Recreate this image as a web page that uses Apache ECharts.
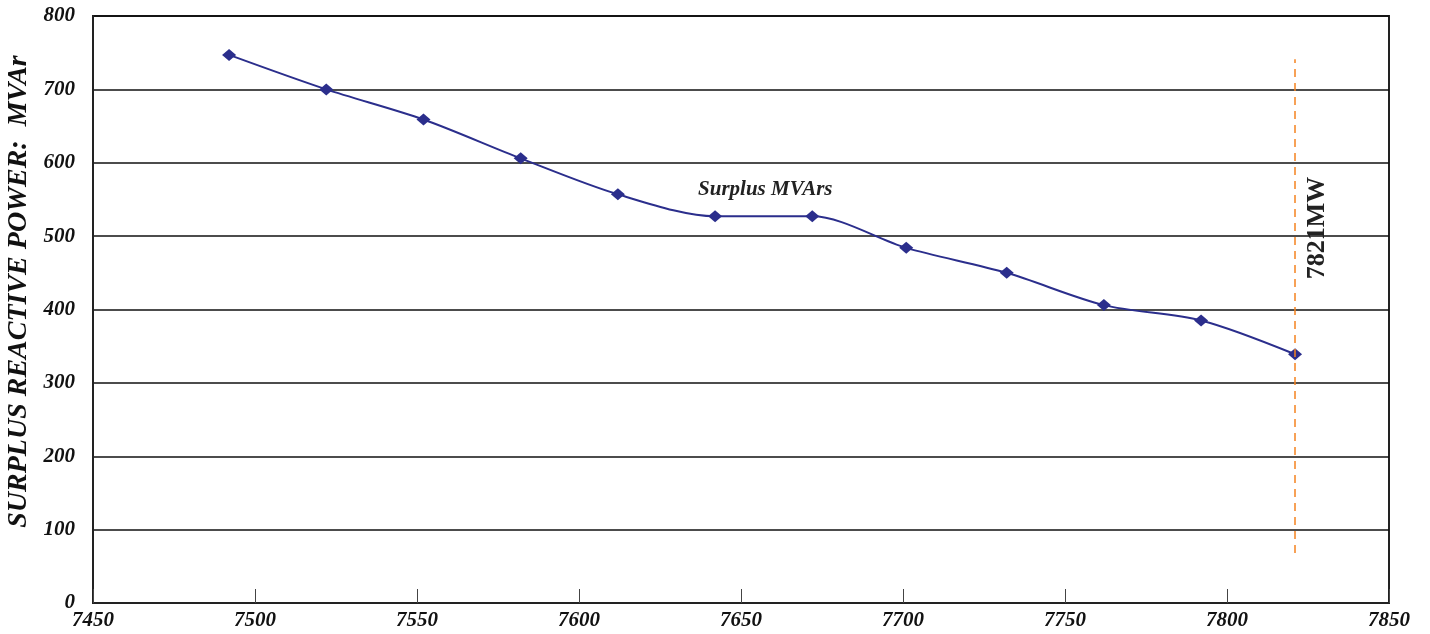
<!DOCTYPE html>
<html><head><meta charset="utf-8">
<script src="https://cdn.jsdelivr.net/npm/echarts@6/dist/echarts.min.js"></script>
<style>html,body{margin:0;padding:0;background:#fff}#c{width:1430px;height:634px}</style>
</head><body><div id="c"></div>
<script>
const xValues = [7492, 7522, 7552, 7582, 7612, 7642, 7672, 7701, 7732, 7762, 7792, 7821];
const surplusMVAr = [747, 700, 659, 606, 557, 527, 527, 484, 450, 406, 385, 339];
const seriesName = 'Surplus MVArs';
const limitX = 7821;
const limitLabel = '7821MW';
const limitRange = [68, 741];
const yTitle = 'SURPLUS REACTIVE POWER:  MVAr';

const pts = xValues.map((x, i) => [x, surplusMVAr[i]]);
const font = 'Liberation Serif';
const chart = echarts.init(document.getElementById('c'));
chart.setOption({
  animation: false,
  grid: {left: 93, right: 41, top: 16, bottom: 31, show: true, borderColor: '#222', borderWidth: 2, outerBoundsMode: 'none', containLabel: false},
  xAxis: {
    type: 'value', min: 7450, max: 7850, interval: 50,
    axisLine: {show: true, lineStyle: {color: '#222', width: 2}},
    axisTick: {show: true, inside: true, length: 14, lineStyle: {color: '#444', width: 1}},
    splitLine: {show: false},
    axisLabel: {color: '#111', fontFamily: font, fontStyle: 'italic', fontWeight: 'bold', fontSize: 21, margin: 7,
      formatter: v => String(v)}
  },
  yAxis: {
    type: 'value', min: 0, max: 800, interval: 100,
    name: yTitle, nameLocation: 'middle', nameGap: 58,
    nameTextStyle: {color: '#111', fontFamily: font, fontStyle: 'italic', fontWeight: 'bold', fontSize: 28, padding: [0, 0, 0, 36]},
    axisLine: {show: true, lineStyle: {color: '#222', width: 2}},
    axisTick: {show: false},
    splitLine: {show: true, lineStyle: {color: '#111', width: 1.5}},
    axisLabel: {color: '#111', fontFamily: font, fontStyle: 'italic', fontWeight: 'bold', fontSize: 21, margin: 18,
      formatter: v => String(v)}
  },
  series: [{
    name: seriesName, type: 'line', data: pts, smooth: 0.3,
    symbol: 'diamond', symbolSize: [14, 12],
    lineStyle: {color: '#2b2e8c', width: 2},
    itemStyle: {color: '#2b2e8c'},
    markPoint: {
      symbol: 'circle', symbolSize: 0, silent: true,
      data: [
        {coord: [7657.5, 564], label: {show: true, formatter: seriesName, color: '#222', fontFamily: font, fontStyle: 'italic', fontWeight: 'bold', fontSize: 21}},
        {coord: [7827.8, 511], label: {show: true, formatter: limitLabel, rotate: 90, color: '#222', fontFamily: font, fontWeight: 'bold', fontSize: 26}}
      ]
    },
    markLine: {
      symbol: 'none', silent: true, label: {show: false},
      lineStyle: {color: '#f5821f', type: [8, 6], width: 1.5},
      data: [[{coord: [limitX, limitRange[0]]}, {coord: [limitX, limitRange[1]]}]]
    }
  }]
});
</script></body></html>
